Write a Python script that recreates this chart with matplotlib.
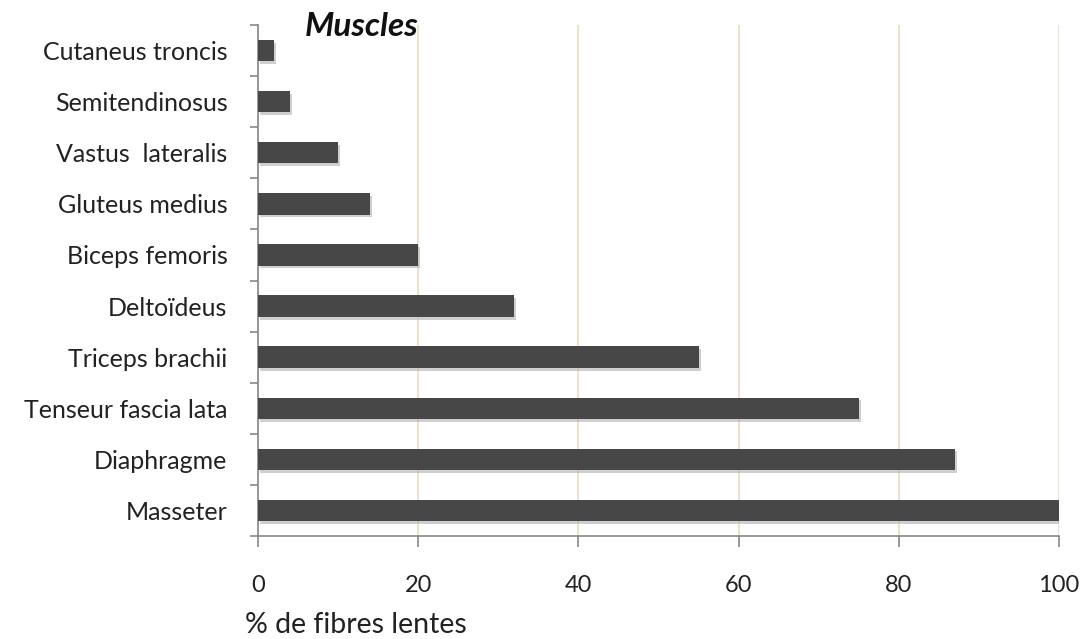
import matplotlib
matplotlib.use("Agg")
import matplotlib.pyplot as plt
import matplotlib.patheffects as pe
import numpy as np

muscles = ["Masseter", "Diaphragme", "Tenseur fascia lata", "Triceps brachii",
           "Deltoïdeus", "Biceps femoris", "Gluteus medius", "Vastus  lateralis",
           "Semitendinosus", "Cutaneus troncis"]
slow_pct = [100, 87, 75, 55, 32, 20, 14, 10, 4, 2]
xticks = [0, 20, 40, 60, 80, 100]

plt.rcParams['font.family'] = ['Lato', 'DejaVu Sans']

fig = plt.figure(figsize=(10.84, 6.39), dpi=100)
ax = fig.add_axes([258/1084, 1-536/639, (1059-258)/1084, (536-25)/639])

y = np.arange(len(muscles))
bars = ax.barh(y, slow_pct, height=0.42, color="#474747", zorder=3)
for b in bars:
    b.set_path_effects([pe.SimplePatchShadow(offset=(1.5, -2), shadow_rgbFace="#b0b0b0", alpha=0.6), pe.Normal()])

ax.set_xlim(0, 100)
ax.set_ylim(-0.5, len(muscles) - 0.5)
ax.set_xticks(xticks)
ax.set_xticklabels([str(v) for v in xticks], fontsize=17, color="#222222")
ax.set_yticks(y)
ax.set_yticklabels(muscles, fontsize=18, color="#222222")
ax.set_yticks(np.arange(len(muscles) + 1) - 0.5, minor=True)
ax.tick_params(axis='y', which='major', length=0, pad=22)
ax.tick_params(axis='y', which='minor', length=6, color="#888888", width=1.2)
ax.tick_params(axis='x', which='major', length=8, color="#888888", width=1.2, pad=20)

ax.grid(axis='x', color="#eadcc0", linewidth=1.2, zorder=0)
for s in ["top", "right"]:
    ax.spines[s].set_visible(False)
for s in ["left", "bottom"]:
    ax.spines[s].set_color("#888888")
    ax.spines[s].set_linewidth(1.2)

fig.text(305/1084, 1-27/639, "Muscles", fontsize=24, fontweight="bold", fontstyle="italic",
         color="#111111", ha="left", va="center")
fig.text(245/1084, 1-625/639, "% de fibres lentes", fontsize=20.5, color="#222222",
         ha="left", va="center")

fig.savefig("out.png", dpi=100)
